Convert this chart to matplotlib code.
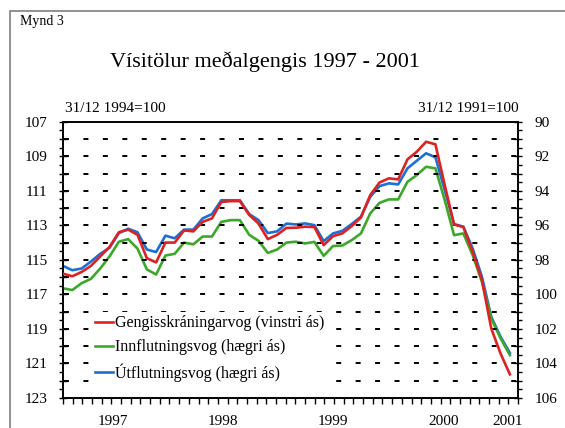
import numpy as np
import matplotlib
matplotlib.use("Agg")
import matplotlib.pyplot as plt
from matplotlib.ticker import MultipleLocator, FuncFormatter
from matplotlib.patches import Rectangle

plt.rcParams['font.family'] = ['Liberation Serif', 'DejaVu Serif']
plt.rcParams['lines.scale_dashes'] = False

# monthly, jan 1997 - jan 2001
months = np.arange(49)

# left axis (31/12 1994=100)
gengi = [115.8, 115.95, 115.7, 115.35, 114.8, 114.25, 113.4, 113.25, 113.55, 114.9,
         115.15, 114.0, 114.0, 113.3, 113.35, 112.8, 112.6, 111.65, 111.6, 111.6,
         112.4, 112.9, 113.8, 113.55, 113.15, 113.14, 113.08, 113.1, 114.15, 113.63,
         113.47, 113.05, 112.55, 111.25, 110.52, 110.28, 110.34, 109.18, 108.74, 108.16,
         108.31, 110.67, 112.95, 113.1, 114.54, 116.18, 118.98, 120.43, 121.63]

# right axis (31/12 1991=100)
innfl = [99.65, 99.75, 99.35, 99.1, 98.5, 97.8, 96.95, 96.8, 97.35, 98.55,
         98.85, 97.75, 97.65, 97.0, 97.1, 96.65, 96.65, 95.8, 95.7, 95.7,
         96.55, 96.9, 97.6, 97.4, 97.0, 96.95, 97.05, 96.96, 97.77, 97.2,
         97.17, 96.86, 96.47, 95.31, 94.7, 94.5, 94.5, 93.48, 93.09, 92.61,
         92.7, 94.54, 96.57, 96.47, 97.73, 99.28, 101.4, 102.55, 103.52]

utfl = [98.35, 98.6, 98.5, 98.1, 97.65, 97.3, 96.45, 96.2, 96.4, 97.4,
        97.55, 96.6, 96.75, 96.25, 96.25, 95.6, 95.35, 94.55, 94.55, 94.55,
        95.35, 95.7, 96.45, 96.35, 95.9, 95.95, 95.89, 95.99, 96.92, 96.47,
        96.32, 95.93, 95.5, 94.35, 93.73, 93.57, 93.63, 92.7, 92.26, 91.83,
        92.06, 93.96, 95.93, 96.08, 97.34, 98.99, 101.3, 102.46, 103.39]

year_labels = ['1997', '1998', '1999', '2000', '2001']
year_pos = [5.4, 17.2, 29.0, 40.9, 47.8]

c_red = '#dc2222'
c_green = '#3ca82a'
c_blue = '#1c6fd4'

fig = plt.figure(figsize=(5.65, 4.28), dpi=100)
W, H = 565.0, 428.0

# outer frame
fig.patches.append(Rectangle((10 / W, -0.1), 1.2, 1 - 11 / H + 0.1, transform=fig.transFigure,
                             fill=False, edgecolor='#7f7f7f', linewidth=1.2))

ax = fig.add_axes([63 / W, 1 - 398 / H, 455 / W, 276.3 / H])
ax2 = ax.twinx()

xmax = 48.87
ax.set_xlim(0, xmax)
ax.set_ylim(123, 107)
ax2.set_ylim(106, 90)

ax2.plot(months, utfl, color=c_blue, lw=1.9, zorder=2)
ax2.plot(months, innfl, color=c_green, lw=1.9, zorder=3)
l_red, = ax.plot(months, gengi, color=c_red, lw=1.9, zorder=4)
ax.set_zorder(ax2.get_zorder() + 1)
ax.patch.set_visible(False)

# dotted-ish grid
for v in range(108, 123):
    ax.axhline(v, color='black', lw=1.4, linestyle=(13.3, (3.6, 10.4)), zorder=1)

# y ticks
ax.yaxis.set_major_locator(MultipleLocator(1))
ax.yaxis.set_minor_locator(MultipleLocator(0.5))
ax.yaxis.set_major_formatter(FuncFormatter(lambda v, p: '%d' % v if int(round(v)) % 2 == 1 else ''))
ax.tick_params(axis='y', which='major', direction='inout', length=6, width=1, labelsize=11, pad=8)
ax.tick_params(axis='y', which='minor', direction='out', length=3, width=1)

ax2.yaxis.set_major_locator(MultipleLocator(1))
ax2.yaxis.set_minor_locator(MultipleLocator(0.5))
ax2.yaxis.set_major_formatter(FuncFormatter(lambda v, p: '%d' % v if int(round(v)) % 2 == 0 else ''))
ax2.tick_params(axis='y', which='major', direction='inout', length=6, width=1, labelsize=11, pad=9)
ax2.tick_params(axis='y', which='minor', direction='out', length=3, width=1)

# x ticks
ax.set_xticks(np.linspace(0, xmax, 48))
ax.set_xticklabels([])
ax.tick_params(axis='x', which='major', direction='out', length=4, width=1)
ax.set_xticks(year_pos, minor=True)
ax.set_xticklabels(year_labels, minor=True)
ax.tick_params(axis='x', which='minor', length=0, labelsize=11, pad=12)

for a in (ax, ax2):
    for s in a.spines.values():
        s.set_linewidth(1.2)

# legend with white box, no border
h_green = plt.Line2D([], [], color=c_green, lw=1.9)
h_blue = plt.Line2D([], [], color=c_blue, lw=1.9)
leg = ax.legend([l_red, h_green, h_blue],
                ['Gengisskráningarvog (vinstri ás)', 'Innflutningsvog (hægri ás)', 'Útflutningsvog (hægri ás)'],
                loc='upper left', bbox_to_anchor=(92 / W, 1 - 312 / H), bbox_transform=fig.transFigure,
                fontsize=11.5, handlelength=1.1, handletextpad=0.12, labelspacing=0.5,
                frameon=True, fancybox=False, framealpha=1, edgecolor='none',
                borderpad=0.2, borderaxespad=0)
leg.set_zorder(10)

fig.text(20 / W, 1 - 22 / H, 'Mynd 3', fontsize=10, ha='left', va='center')
fig.text(265 / W, 1 - 62 / H, 'Vísitölur meðalgengis 1997 - 2001', fontsize=16, ha='center', va='center')
fig.text(65 / W, 1 - 109 / H, '31/12 1994=100', fontsize=11, ha='left', va='center')
fig.text(519 / W, 1 - 109 / H, '31/12 1991=100', fontsize=11, ha='right', va='center')

fig.savefig('out.png', dpi=100)
